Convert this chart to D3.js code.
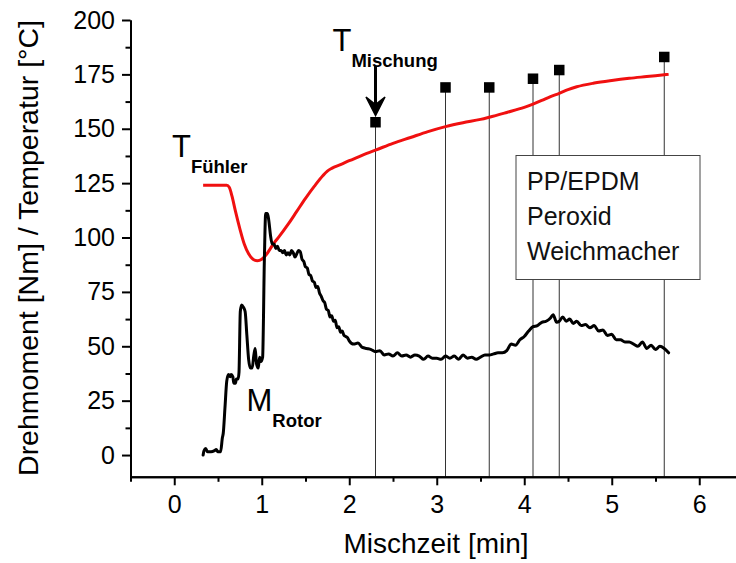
<!DOCTYPE html>
<html>
<head>
<meta charset="utf-8">
<script src="https://cdn.jsdelivr.net/npm/d3@7/dist/d3.min.js"></script>
<style>
  html, body { margin: 0; padding: 0; background: #fff; }
  svg { display: block; font-family: Arial, "Liberation Sans", sans-serif; }
</style>
</head>
<body>
<svg id="chart" width="736" height="563"></svg>
<script>
// Temperature probe reading T_Fühler [°C] over mixing time [min]
const tempTime = [0.33, 0.40, 0.50, 0.60, 0.63, 0.66, 0.70, 0.75, 0.80, 0.85, 0.90, 0.95, 1.00, 1.05, 1.10, 1.15, 1.20, 1.30, 1.40, 1.50, 1.60, 1.70, 1.75, 1.80, 1.90, 2.00, 2.10, 2.20, 2.30, 2.50, 2.70, 2.90, 3.10, 3.30, 3.50, 3.60, 3.80, 4.00, 4.10, 4.20, 4.30, 4.40, 4.50, 4.60, 4.80, 5.00, 5.20, 5.40, 5.60, 5.65];
const tempValue = [124, 124, 124, 124, 123, 119, 112, 104, 97, 92.5, 90, 89.3, 90, 92, 95, 98, 100.5, 106, 112, 118, 123.5, 128.5, 130.5, 131.8, 133.5, 135.3, 137, 138.7, 140.2, 143.3, 146, 148.7, 151, 152.8, 154.3, 155.3, 157.5, 159.8, 161.3, 163, 164.8, 166.3, 168, 169.3, 171, 172.2, 173.2, 174, 174.8, 175];

// Rotor torque M_Rotor [Nm] over mixing time [min]
const torqueTime = [0.33, 0.34, 0.36, 0.38, 0.42, 0.46, 0.48, 0.50, 0.53, 0.55, 0.56, 0.58, 0.60, 0.62, 0.64, 0.65, 0.67, 0.68, 0.70, 0.71, 0.73, 0.74, 0.755, 0.77, 0.79, 0.81, 0.83, 0.85, 0.87, 0.89, 0.91, 0.925, 0.94, 0.96, 0.975, 0.99, 1.01, 1.03, 1.045, 1.065, 1.08, 1.10, 1.12, 1.14, 1.16, 1.18, 1.20, 1.22, 1.24, 1.26, 1.28, 1.30, 1.32, 1.34, 1.36, 1.38, 1.40, 1.42, 1.44, 1.46, 1.48, 1.50, 1.52, 1.54, 1.56, 1.58, 1.60, 1.62, 1.64, 1.66, 1.68, 1.70, 1.72, 1.74, 1.76, 1.78, 1.80, 1.82, 1.84, 1.86, 1.88, 1.90, 1.92, 1.94, 1.96, 1.98, 2.00, 2.05, 2.10, 2.15, 2.20, 2.25, 2.30, 2.35, 2.40, 2.45, 2.50, 2.55, 2.60, 2.65, 2.70, 2.75, 2.80, 2.85, 2.90, 2.95, 3.00, 3.05, 3.10, 3.15, 3.20, 3.25, 3.30, 3.35, 3.40, 3.45, 3.50, 3.55, 3.60, 3.65, 3.70, 3.75, 3.80, 3.85, 3.90, 3.95, 4.00, 4.05, 4.10, 4.15, 4.20, 4.25, 4.30, 4.33, 4.37, 4.40, 4.44, 4.48, 4.52, 4.56, 4.60, 4.65, 4.70, 4.75, 4.80, 4.85, 4.90, 4.95, 5.00, 5.05, 5.10, 5.15, 5.20, 5.25, 5.30, 5.35, 5.40, 5.45, 5.50, 5.55, 5.60, 5.65];
const torqueValue = [0, 2, 3, 1.5, 1.5, 2, 2.5, 1.5, 1.5, 8, 10, 22, 34, 37, 36, 37, 36, 33, 33, 35, 35, 38, 66, 69, 68, 66, 55, 44, 40, 40, 46, 49, 42, 40, 45, 43, 45, 90, 111, 111, 108, 101, 97, 97, 95, 96, 94, 94, 93, 94, 92, 93, 92, 94, 93, 91, 92.5, 94, 93.5, 90, 89, 86.5, 86, 83, 82.5, 80, 79.5, 77, 77.5, 74.5, 73, 71, 70, 67, 66.5, 63.5, 64, 61.5, 62, 58.5, 59, 56.5, 57, 55, 54.5, 54, 52.5, 51, 51.5, 49.5, 49, 48.5, 47.5, 48, 46, 46.5, 45.5, 47, 45.5, 46, 45, 46, 45.5, 44, 45.5, 44.5, 44.5, 44, 45.5, 44.5, 45.5, 44, 46, 44.5, 45, 44, 45, 46, 46, 46.5, 47, 47, 48, 51, 50.5, 53, 54.5, 57, 59, 59.5, 61, 61.5, 63, 64.5, 61, 61.5, 63.5, 61.5, 62.5, 60.5, 61.5, 59.5, 60, 58.5, 59.5, 57, 57.5, 55, 55.5, 53, 53, 52, 52, 51, 50, 52, 49, 50.5, 48.5, 50, 49, 47];

// Melt temperature T_Mischung sampled at discrete times
const sampleTime = [2.3, 3.1, 3.6, 4.1, 4.4, 5.6];
const sampleTemp = [153, 169, 169, 173, 177, 183];

// Axis ticks
const xTicks = [0, 1, 2, 3, 4, 5, 6];
const xMinorTicks = [-0.5, 0.5, 1.5, 2.5, 3.5, 4.5, 5.5];
const yTicks = [0, 25, 50, 75, 100, 125, 150, 175, 200];
const yMinorTicks = [12.5, 37.5, 62.5, 87.5, 112.5, 137.5, 162.5, 187.5];

const boxLines = ["PP/EPDM", "Peroxid", "Weichmacher"];

const svg = d3.select("#chart");
const plotLeft = 130.5, plotTop = 20, plotRight = 743, plotBottom = 476.8;

const x = d3.scaleLinear().domain([-0.5, 6.5]).range([plotLeft, plotRight]);
const y = d3.scaleLinear().domain([-10, 200]).range([plotBottom, plotTop]);

// Vertical drop lines from each sample marker to the time axis
svg.append("g").selectAll("line").data(sampleTime).join("line")
  .attr("x1", d => x(d)).attr("x2", d => x(d))
  .attr("y1", (d, i) => y(sampleTemp[i])).attr("y2", y(-10))
  .attr("stroke", "#333").attr("stroke-width", 1);

// Recipe box (white fill hides the drop lines behind it)
const bx = 516, by = 155.5, bw = 184, bh = 124;
svg.append("rect").attr("x", bx).attr("y", by).attr("width", bw).attr("height", bh)
  .attr("fill", "#fff").attr("stroke", "#444").attr("stroke-width", 1);
svg.append("g").selectAll("text").data(boxLines).join("text")
  .attr("x", bx + 11).attr("y", (d, i) => by + 34.5 + i * 35.2)
  .attr("font-size", 25).attr("fill", "#111").text(d => d);

// Temperature curve
const tempData = tempTime.map((t, i) => [t, tempValue[i]]);
svg.append("path").datum(tempData)
  .attr("fill", "none").attr("stroke", "#f01010").attr("stroke-width", 3)
  .attr("stroke-linejoin", "round")
  .attr("d", d3.line().x(d => x(d[0])).y(d => y(d[1])).curve(d3.curveMonotoneX));

// Torque curve
const torqueData = torqueTime.map((t, i) => [t, torqueValue[i]]);
svg.append("path").datum(torqueData)
  .attr("fill", "none").attr("stroke", "#000").attr("stroke-width", 3)
  .attr("stroke-linejoin", "round").attr("stroke-linecap", "round")
  .attr("d", d3.line().x(d => x(d[0])).y(d => y(d[1])).curve(d3.curveMonotoneX));

// Sample markers
const sq = 10.5;
svg.append("g").selectAll("rect").data(sampleTime).join("rect")
  .attr("x", d => x(d) - sq / 2).attr("y", (d, i) => y(sampleTemp[i]) - sq / 2)
  .attr("width", sq).attr("height", sq).attr("fill", "#000");

// Axes
function styleAxis(g) {
  g.select(".domain").attr("stroke", "#000").attr("stroke-width", 2);
  g.selectAll(".tick line").attr("stroke", "#000").attr("stroke-width", 2);
  g.selectAll(".tick text").attr("fill", "#000").attr("font-size", 25)
    .attr("font-family", "Arial, 'Liberation Sans', sans-serif");
}

const gx = svg.append("g").attr("transform", `translate(0,${plotBottom})`)
  .call(d3.axisBottom(x).tickValues(xTicks).tickSize(8.5).tickSizeOuter(0).tickPadding(10).tickFormat(d3.format("d")));
styleAxis(gx);
const gxm = svg.append("g").attr("transform", `translate(0,${plotBottom})`)
  .call(d3.axisBottom(x).tickValues(xMinorTicks).tickSize(5).tickSizeOuter(0).tickFormat(""));
styleAxis(gxm);

const gy = svg.append("g").attr("transform", `translate(${plotLeft},0)`)
  .call(d3.axisLeft(y).tickValues(yTicks).tickSize(8.5).tickSizeOuter(0).tickPadding(7).tickFormat(d3.format("d")));
styleAxis(gy);
const gym = svg.append("g").attr("transform", `translate(${plotLeft},0)`)
  .call(d3.axisLeft(y).tickValues(yMinorTicks).tickSize(5).tickSizeOuter(0).tickFormat(""));
styleAxis(gym);

// Axis titles
svg.append("text").attr("x", 436).attr("y", 553).attr("text-anchor", "middle")
  .attr("font-size", 28).attr("fill", "#000").text("Mischzeit [min]");
svg.append("text").attr("transform", "translate(37.5,248) rotate(-90)")
  .attr("text-anchor", "middle").attr("font-size", 28.5).attr("fill", "#000")
  .text("Drehmoment [Nm] / Temperatur [°C]");

// Curve labels with subscripts
function subLabel(xp, yp, main, sub) {
  const t = svg.append("text").attr("x", xp).attr("y", yp).attr("fill", "#000");
  t.append("tspan").attr("font-size", 31).text(main);
  t.append("tspan").attr("font-size", 18.5).attr("font-weight", "bold").attr("dy", 16.5).text(sub);
}
subLabel(172, 156.5, "T", "Fühler");
subLabel(332.5, 50.5, "T", "Mischung");
subLabel(246.5, 410.5, "M", "Rotor");

// Arrow pointing at the first melt temperature sample
const ax = x(sampleTime[0]);
svg.append("line").attr("x1", ax).attr("x2", ax).attr("y1", 66).attr("y2", 108)
  .attr("stroke", "#000").attr("stroke-width", 3);
svg.append("path")
  .attr("d", `M${ax},115.5 L${ax - 9.5},97 L${ax},104.5 L${ax + 9.5},97 Z`)
  .attr("fill", "#000").attr("stroke", "#000").attr("stroke-width", 1.5).attr("stroke-linejoin", "miter");
</script>
</body>
</html>
